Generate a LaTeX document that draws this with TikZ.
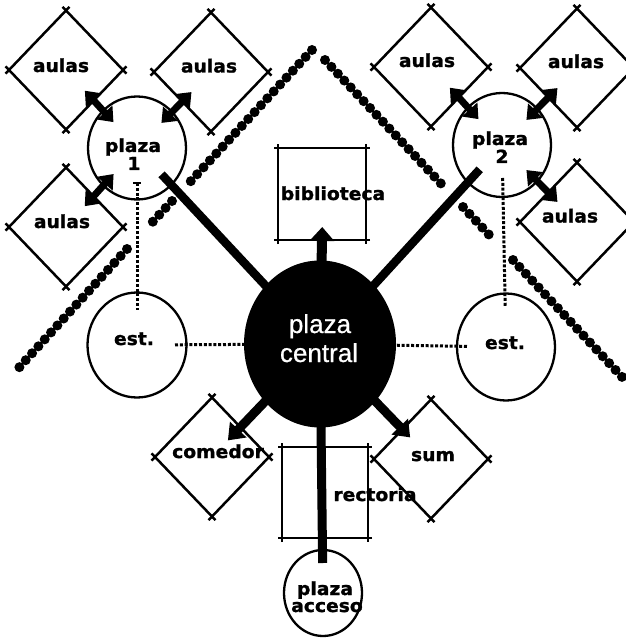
\documentclass[tikz,border=0pt]{standalone}
\usepackage{fontspec}
\setmainfont{DejaVu Sans}
\newfontfamily\widebold[UprightFont={* Bold}, FakeBold=1.3, FakeStretch=1.04]{DejaVu Sans}
\newfontfamily\centralfont[FakeBold=0.6]{Liberation Sans}
\usetikzlibrary{arrows.meta,shapes.geometric}
\newcommand{\dbox}[2]{%
  \node[dshape] (#1) at (#2) {};
  \draw[edge] (#1.north) -- (#1.east);
  \draw[edge] (#1.east) -- (#1.south);
  \draw[edge] (#1.south) -- (#1.west);
  \draw[edge] (#1.west) -- (#1.north);}
\newcommand{\rbox}[4]{%
  \node[rshape, minimum width=#3, minimum height=#4] (#1) at (#2) {};
  \draw[redge] (#1.north west) -- (#1.north east);
  \draw[redge] (#1.north east) -- (#1.south east);
  \draw[redge] (#1.south east) -- (#1.south west);
  \draw[redge] (#1.south west) -- (#1.north west);}
\begin{document}
\begin{tikzpicture}[x=1pt,y=-1pt,
  dshape/.style={diamond, minimum width=114pt, minimum height=119pt, inner sep=0pt, outer sep=0pt},
  rshape/.style={rectangle, inner sep=0pt, outer sep=0pt},
  edge/.style={line width=2.5pt, shorten <=-5pt, shorten >=-5pt},
  redge/.style={line width=2.3pt, shorten <=-4pt, shorten >=-4pt},
  lbl/.style={font=\widebold\fontsize{18}{20}\selectfont, inner sep=0pt, anchor=base},
  ring/.style={ellipse, draw, line width=2.3pt, inner sep=0pt, outer sep=0pt},
  bar/.style={line width=8.5pt},
  beads/.style={line width=10pt, line cap=round, dash pattern=on 0pt off 9.4pt},
  dashes/.style={line width=3pt, dash pattern=on 3pt off 1.8pt},
  dbl/.style={line width=7pt, {Triangle[width=20pt,length=13pt]}-{Triangle[width=20pt,length=13pt]}, shorten <=35pt, shorten >=28pt},
  big/.style={line width=9pt, -{Triangle[width=22pt,length=15pt]}},
  whitelbl/.style={font=\centralfont\fontsize{26}{29}\selectfont, text=white, inner sep=0pt, anchor=base}
]
\useasboundingbox (0,0) rectangle (625,639);

% beaded lines
\draw[beads] (312,50) -- (190,182);
\draw[beads] (172,201) -- (147,228);
\draw[beads] (127,249) -- (15,372);
\draw[beads] (325,60) -- (447,190);
\draw[beads] (463,207) -- (493,239);
\draw[beads] (513,260) -- (623,378);

% nodes
\node[ellipse, fill=black, inner sep=0pt, minimum width=152pt, minimum height=167pt] (c) at (320,344) {};
\node[ring, minimum width=98pt, minimum height=103pt] (p1) at (137,148) {};
\node[ring, minimum width=98pt, minimum height=104pt] (p2) at (502,145) {};
\node[ring, minimum width=99pt, minimum height=105pt] (estL) at (137,345) {};
\node[ring, minimum width=98pt, minimum height=107pt] (estR) at (506,347) {};
\node[ring, minimum width=78pt, minimum height=86pt] (acc) at (323,593) {};

\dbox{a1}{66,70}
\dbox{a2}{211,72}
\dbox{a3}{66,227}
\dbox{a4}{431,67}
\dbox{a5}{577,68}
\dbox{a6}{577,222}
\dbox{com}{212,457}
\dbox{sum}{431,459}
\rbox{bib}{322,194}{88pt}{92pt}
\rbox{rec}{325,492.5}{86pt}{91pt}

% dashed links
\draw[dashes, shorten <=38pt] (estL.center) -- (c.center);
\draw[dashes, shorten >=38pt] (c.center) -- (estR.center);
\draw[dashes, shorten <=35pt, shorten >=35pt] (p1.center) -- (estL.center);
\draw[dashes, shorten <=33pt, shorten >=40pt] (p2.center) -- (estR.center);
\path (p1.center) ++(0,35) coordinate (p1s);
\draw[line width=1.8pt] (p1s) ++(-4,0) -- ++(8,0);

% thick links
\draw[bar, shorten <=36pt] (p1.center) -- (c.center);
\draw[bar, shorten <=33pt] (p2.center) -- (c.center);
\draw[bar, line width=9pt, shorten >=30pt] (c.center) -- (acc.center);
\draw[big, line width=10pt, -{Triangle[width=24pt,length=14pt]}, shorten >=-13pt] (c.center) -- (bib.south);
\draw[big, shorten >=23pt] (c.center) -- (com.center);
\draw[big, shorten >=30pt] (c.center) -- (sum.center);

% double arrows to aulas
\draw[dbl] (p1.center) -- (a1.center);
\draw[dbl] (p1.center) -- (a2.center);
\draw[dbl] (p1.center) -- (a3.center);
\draw[dbl] (p2.center) -- (a4.center);
\draw[dbl] (p2.center) -- (a5.center);
\draw[dbl] (p2.center) -- (a6.center);

% labels
\node[lbl] (ta1) at (61,72) {aulas};
\node[lbl] (ta2) at (209,72.5) {aulas};
\node[lbl] (ta3) at (62,228) {aulas};
\node[lbl] (ta4) at (427,67) {aulas};
\node[lbl] (ta5) at (576,68) {aulas};
\node[lbl] (ta6) at (570,222.5) {aulas};
\node[lbl] (tp1) at (133,152) {plaza};
\node[lbl] (tp1n) at (134,170) {1};
\node[lbl] (tp2) at (500,145) {plaza};
\node[lbl] (tp2n) at (502,163) {2};
\node[lbl] (tbib) at (333,200) {biblioteca};
\node[lbl] (testL) at (134,345) {est.};
\node[lbl] (testR) at (505,349) {est.};
\node[lbl] (tcom) at (218,458) {comedor};
\node[lbl] (tsum) at (433,461) {sum};
\node[lbl] (trec) at (375,501) {rectoria};
\node[lbl] (tacc1) at (325,595) {plaza};
\node[lbl] (tacc2) at (327,612) {acceso};
\node[whitelbl] (tc1) at (320,333) {plaza};
\node[whitelbl] (tc2) at (319,362) {central};
\end{tikzpicture}
\end{document}
